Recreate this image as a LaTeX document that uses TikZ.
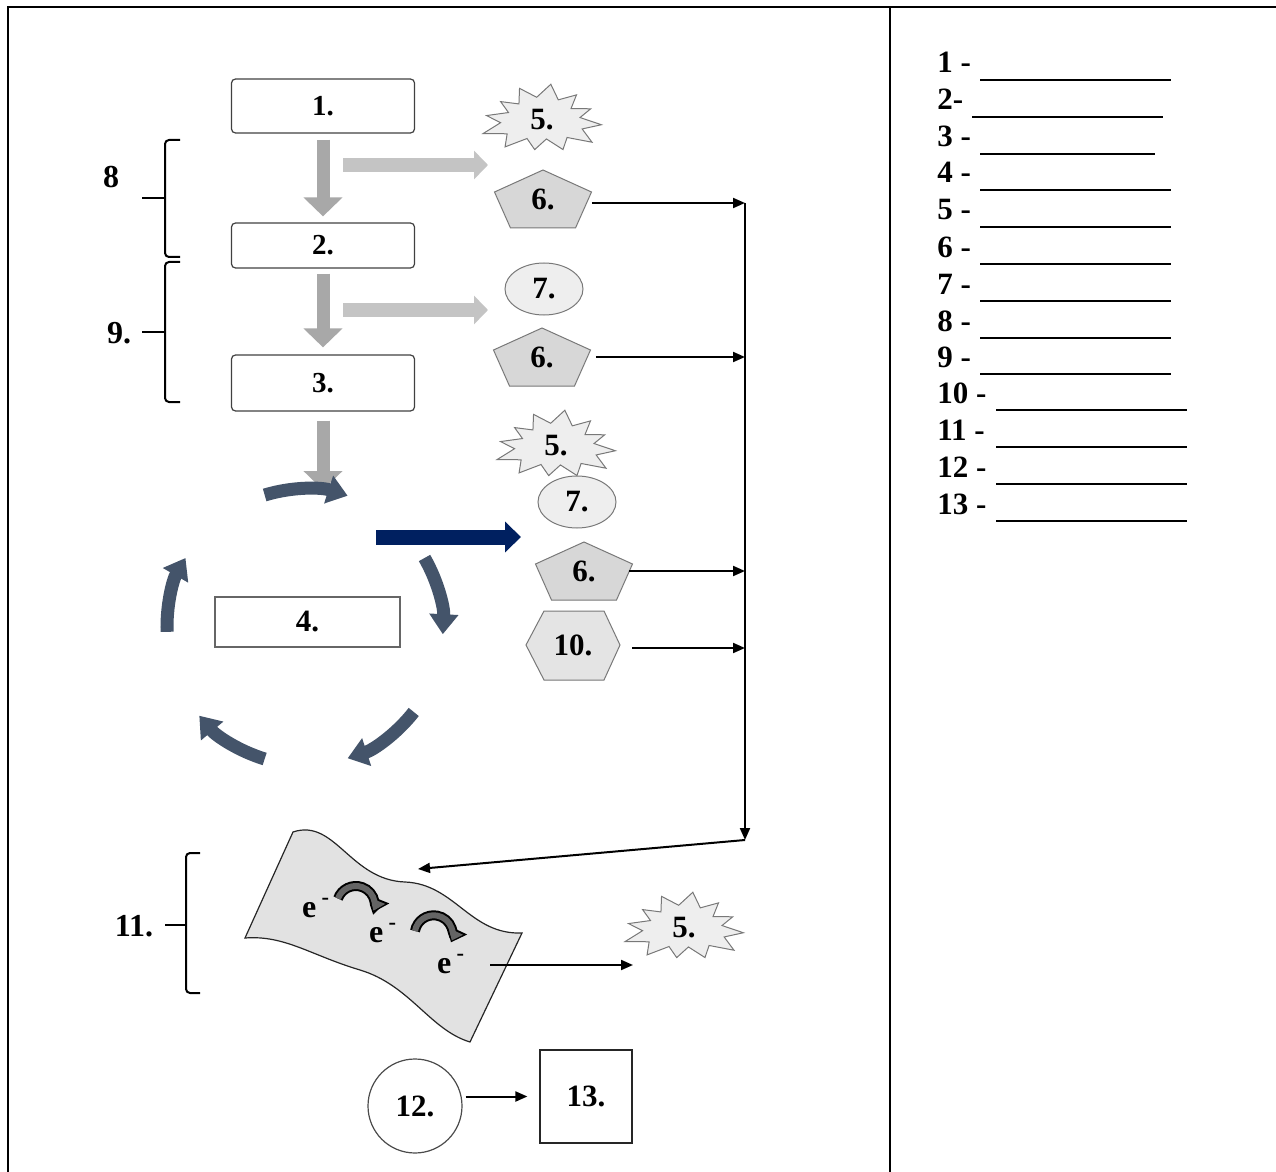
\documentclass[tikz,border=0pt]{standalone}
\usepackage{fontspec}
\setmainfont{Liberation Serif}
\usetikzlibrary{arrows.meta,shapes.geometric,calc}
\definecolor{arrgray}{RGB}{168,168,168}
\definecolor{arrlight}{RGB}{196,196,196}
\definecolor{cyccol}{RGB}{68,84,106}
\definecolor{navyc}{RGB}{0,32,96}
\definecolor{shapeedge}{RGB}{120,120,120}
\definecolor{pentfill}{RGB}{215,215,215}
\definecolor{lightfill}{RGB}{238,238,238}
\definecolor{hexfill}{RGB}{228,228,228}
\definecolor{memfill}{RGB}{226,226,226}
\definecolor{earrow}{RGB}{100,100,100}
\newcommand\mypent[3]{%
  \draw[draw=shapeedge, fill=pentfill, line width=0.5pt]
    ({#2},{#3-29}) -- ({#2+48.5},{#3-7}) -- ({#2+32.5},{#3+29}) --
    ({#2-32.5},{#3+29}) -- ({#2-48.5},{#3-7}) -- cycle;
  \node[lbl, minimum width=48.5pt, minimum height=10pt] (#1) at (#2,#3) {6.};}
\newcommand\myburst[3]{%
  \draw[draw=shapeedge, fill=lightfill, line width=0.5pt]
    plot[samples at={0,15,...,345}, variable=\t]
    ({#2+(40+18*(1-mod(\t/15,2)))*(1+0.1*sin(3*\t+20))*cos(\t+8)},
     {#3+(21+12*(1-mod(\t/15,2)))*(1+0.1*sin(3*\t+20))*sin(\t+8)}) -- cycle;
  \node[lbl] (#1) at (#2,#3) {5.};}
\begin{document}
\begin{tikzpicture}[x=0.5pt,y=-0.5pt,
  lbl/.style={font=\fontsize{15.5}{18}\selectfont\bfseries, inner sep=0pt},
  biglbl/.style={font=\fontsize{16}{18}\selectfont\bfseries, inner sep=0pt},
  listtxt/.style={font=\fontsize{15.5}{18}\selectfont\bfseries, inner sep=0pt, anchor=base west},
  stepbox/.style={draw=black!75, rounded corners=2pt, line width=0.6pt, minimum width=91.5pt,
     font=\fontsize{14.5}{16}\selectfont\bfseries, inner sep=0pt},
  fatdown/.style={arrgray, line width=6.5pt, -{Triangle[width=19pt,length=9.5pt]}},
  fatright/.style={arrlight, line width=7pt, -{Triangle[width=14pt,length=7pt]}},
  cycarr/.style={cyccol, line width=6.5pt, -{Triangle[width=14pt,length=10pt]}},
  conn/.style={black, line width=1pt, -{Triangle[width=5pt,length=6pt]}},
  oval/.style={ellipse, draw=shapeedge, fill=lightfill, line width=0.5pt, minimum width=39pt,
     minimum height=26pt, lbl},
  brack/.style={black, line width=1pt, rounded corners=2pt},
  uline/.style={black, line width=1pt},
  frame/.style={black, line width=0.8pt}
]
\useasboundingbox (0,0) rectangle (1276,1172);
% frame
\draw[frame] (8,1172) -- (8,7) -- (1276,7);
\draw[frame] (890,7) -- (890,1172);

% main boxes
\node[stepbox, minimum height=27pt] (b1) at (323,106) {1.};
\node[stepbox, minimum height=22.5pt] (b2) at (323,245.5) {2.};
\node[stepbox, minimum height=28pt] (b3) at (323,383) {3.};
\draw[fatdown] ([yshift=-3pt]b1.south) -- ([yshift=3pt]b2.north);
\draw[fatdown] ([yshift=-2.5pt]b2.south) -- ([yshift=3.5pt]b3.north);
\coordinate (cyctop) at (323,490);
\draw[fatdown] ([yshift=-4.5pt]b3.south) -- (cyctop);

% light horizontal arrows
\coordinate (h1s) at (343,165); \coordinate (h1e) at (488,165);
\coordinate (h2s) at (343,310); \coordinate (h2e) at (488,310);
\draw[fatright] (h1s) -- (h1e);
\draw[fatright] (h2s) -- (h2e);

% right-hand products
\myburst{s1}{542}{120}
\mypent{p1}{543}{199}
\node[oval] (o1) at (544,289) {7.};
\mypent{p2}{542}{357}
\myburst{s2}{556}{446}
\node[oval] (o2) at (577,502) {7.};
\mypent{p3}{584}{571}
\draw[draw=shapeedge, fill=hexfill, line width=0.5pt]
  (526,645) -- (544,611) -- (604,611) -- (620,645) -- (604,680) -- (544,680) -- cycle;
\node[lbl, minimum width=47pt] (h10) at (573,645) {10.};

% collector line
\coordinate (v1) at (745,203);
\coordinate (v2) at (745,357);
\coordinate (v3) at (745,571);
\coordinate (v4) at (745,648);
\coordinate (vb) at (745,840);
\coordinate (memin) at (418,869);
\draw[conn] (p1.east |- v1) -- (v1);
\draw[conn] ([xshift=2.5pt]p2.east) -- (v2);
\draw[conn] ([xshift=-2pt]p3.east) -- (v3);
\draw[conn] ([xshift=6pt]h10.east |- v4) -- (v4);
\draw[conn] (v1) -- (vb);
\draw[conn] (vb) -- (memin);

% cycle
\node[draw=black!60, line width=0.6pt, minimum width=92.5pt, minimum height=25pt, lbl] (b4) at (307.5,622) {4.};
\coordinate (cc) at (305,627);
\draw[cycarr] ($(cc)+(-107:138)$) arc[start angle=-107, end angle=-72, radius=138];
\draw[cycarr] ($(cc)+(-30:138)$) arc[start angle=-30, end angle=3, radius=138];
\draw[cycarr] ($(cc)+(38:138)$) arc[start angle=38, end angle=72, radius=138];
\draw[cycarr] ($(cc)+(107:138)$) arc[start angle=107, end angle=140, radius=138];
\draw[cycarr] ($(cc)+(178:138)$) arc[start angle=178, end angle=210, radius=138];
\coordinate (nvs) at (376,537); \coordinate (nve) at (521,537);
\draw[navyc, line width=7.5pt, -{Triangle[width=15pt,length=8pt]}] (nvs) -- (nve);

% brackets
\node[biglbl] (l8) at (111,177) {8};
\draw[brack] (180,140) -- (165,140) -- (165,257) -- (180,257);
\draw[brack] (142,198) -- (165,198);
\node[biglbl] (l9) at (119,333) {9.};
\draw[brack] (180,262) -- (165,262) -- (165,402) -- (180,402);
\draw[brack] (142,332) -- (165,332);
\node[biglbl] (l11) at (134,926) {11.};
\draw[brack] (200,853) -- (186,853) -- (186,993) -- (200,993);
\draw[brack] (165,925) -- (186,925);

% membrane
\draw[fill=memfill, draw=black!85, line width=0.6pt]
  (293,832) .. controls (335,818) and (350,880) .. (405,882)
  .. controls (455,884) and (470,935) .. (522,933)
  -- (470,1042)
  .. controls (430,1030) and (410,985) .. (360,970)
  .. controls (310,955) and (285,935) .. (245,938) -- cycle;
\node[biglbl] (e1) at (316,908) {e\,\textsuperscript{-}};
\node[biglbl] (e2) at (383,933) {e\,\textsuperscript{-}};
\node[biglbl] (e3) at (451,964) {e\,\textsuperscript{-}};
\draw[black, line width=5pt, -{Triangle[width=11pt,length=7pt]}] (338,898.5) arc[start angle=200, end angle=382, radius=19];
\draw[earrow, line width=3pt, shorten >=1pt, -{Triangle[width=7.5pt,length=5pt]}] (338,898.5) arc[start angle=200, end angle=382, radius=19];
\draw[black, line width=5pt, -{Triangle[width=11pt,length=7pt]}] (415,931) arc[start angle=190, end angle=385, radius=19];
\draw[earrow, line width=3pt, shorten >=1pt, -{Triangle[width=7.5pt,length=5pt]}] (415,931) arc[start angle=190, end angle=385, radius=19];
\myburst{s3}{684}{928}
\coordinate (e3r) at (490,965);
\coordinate (s3in) at (633,965);
\draw[conn] (e3r) -- (s3in);

% bottom
\node[draw=black!70, line width=0.6pt, circle, minimum size=47pt, lbl] (c12) at (415,1106) {12.};
\node[draw=black!85, line width=0.6pt, minimum width=46pt, minimum height=46.5pt, lbl] (s13) at (586,1096.5) {13.};
\draw[conn] ([xshift=1.5pt]c12.east |- s13.west) -- ([xshift=-6pt]s13.west);

% list
\node[listtxt] (n1) at (937,73) {1 -};
\node[listtxt] (n2) at (937,110) {2-};
\node[listtxt] (n3) at (937,147) {3 -};
\node[listtxt] (n4) at (937,183) {4 -};
\node[listtxt] (n5) at (937,220) {5 -};
\node[listtxt] (n6) at (937,257) {6 -};
\node[listtxt] (n7) at (937,294) {7 -};
\node[listtxt] (n8) at (937,331) {8 -};
\node[listtxt] (n9) at (937,367) {9 -};
\node[listtxt] (n10) at (937,403) {10 -};
\node[listtxt] (n11) at (937,440) {11 -};
\node[listtxt] (n12) at (937,477) {12 -};
\node[listtxt] (n13) at (937,514) {13 -};
\draw[uline] (980,80) -- (1171,80);
\draw[uline] (972,117) -- (1163,117);
\draw[uline] (980,154) -- (1155,154);
\draw[uline] (980,190) -- (1171,190);
\draw[uline] (980,227) -- (1171,227);
\draw[uline] (980,264) -- (1171,264);
\draw[uline] (980,301) -- (1171,301);
\draw[uline] (980,338) -- (1171,338);
\draw[uline] (980,374) -- (1171,374);
\draw[uline] (996,410) -- (1187,410);
\draw[uline] (996,447) -- (1187,447);
\draw[uline] (996,484) -- (1187,484);
\draw[uline] (996,521) -- (1187,521);
\end{tikzpicture}
\end{document}
